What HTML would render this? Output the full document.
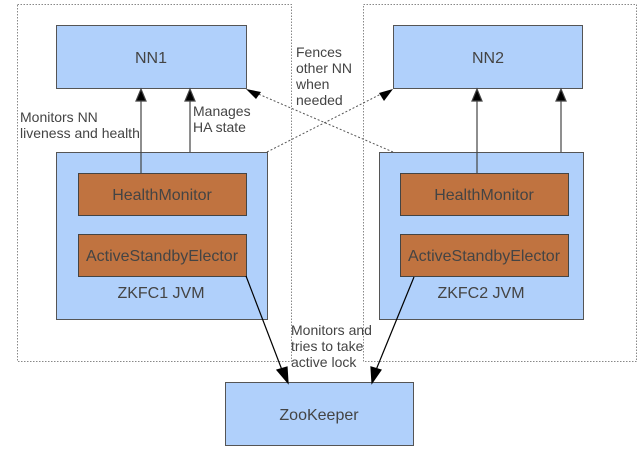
<!DOCTYPE html>
<html><head><style>
body{margin:0;width:643px;height:451px;background:#fff;overflow:hidden}
svg{display:block}
text{font-family:"Liberation Sans",sans-serif;fill:#444}
</style></head><body>
<svg width="643" height="451" viewBox="0 0 643 451">
<g fill="none" stroke="#888" stroke-dasharray="1.5,1.5">
<rect x="17.5" y="4.5" width="274" height="357"/>
<rect x="363.5" y="4.5" width="273" height="357"/>
</g>
<g stroke="#555" fill="#b0d0fb">
<rect x="56.5" y="25.5" width="190" height="63"/>
<rect x="393.5" y="25.5" width="189" height="63"/>
<rect x="56.5" y="152.5" width="211" height="167"/>
<rect x="379.5" y="152.5" width="204" height="167"/>
<rect x="225.5" y="382.5" width="188" height="63"/>
</g>
<g stroke="#444" fill="#c07340">
<rect x="78.5" y="173.5" width="168" height="42"/>
<rect x="78.5" y="234.5" width="168" height="42"/>
<rect x="400.5" y="173.5" width="168" height="42"/>
<rect x="400.5" y="234.5" width="168" height="42"/>
</g>
<g stroke="#444" stroke-width="1.2">
<line x1="141" y1="173" x2="141" y2="100"/><path d="M136,101 L146,101 L141,89 z" fill="#000"/>
<line x1="190" y1="152" x2="190" y2="100"/><path d="M185,101 L195,101 L190,89 z" fill="#000"/>
<line x1="477" y1="173" x2="477" y2="100"/><path d="M472,101 L482,101 L477,89 z" fill="#000"/>
<line x1="561" y1="152" x2="561" y2="100"/><path d="M556,101 L566,101 L561,89 z" fill="#000"/>
</g>
<g stroke="#000" stroke-width="1.2">
<line x1="246" y1="276" x2="282" y2="370"/><path d="M277,370 L287,367 L288,383 z" fill="#000"/>
<line x1="414" y1="277" x2="376" y2="370"/><path d="M371,367 L381,370 L372,383 z" fill="#000"/>
</g>
<g stroke="#555" stroke-dasharray="2,2" fill="none">
<line x1="393" y1="152" x2="256" y2="93"/>
<line x1="267" y1="152" x2="381" y2="94"/>
</g>
<path d="M246,89 L261,92 L256,99 z" fill="#000"/>
<path d="M393,89 L384,101 L379,93 z" fill="#000"/>
<g font-size="16" text-anchor="middle">
<text x="151" y="63">NN1</text>
<text x="488" y="63">NN2</text>
<text x="162" y="200">HealthMonitor</text>
<text x="162" y="261">ActiveStandbyElector</text>
<text x="484" y="200">HealthMonitor</text>
<text x="484" y="261">ActiveStandbyElector</text>
<text x="161" y="298">ZKFC1 JVM</text>
<text x="481" y="298">ZKFC2 JVM</text>
<text x="319" y="420">ZooKeeper</text>
</g>
<g font-size="14">
<text x="20" y="122">Monitors NN</text>
<text x="20" y="138">liveness and health</text>
<text x="193" y="116">Manages</text>
<text x="193" y="132">HA state</text>
<text x="296" y="57">Fences</text>
<text x="296" y="73">other NN</text>
<text x="296" y="89">when</text>
<text x="296" y="105">needed</text>
<text x="291" y="335">Monitors and</text>
<text x="291" y="351">tries to take</text>
<text x="291" y="367">active lock</text>
</g>
</svg>
</body></html>
